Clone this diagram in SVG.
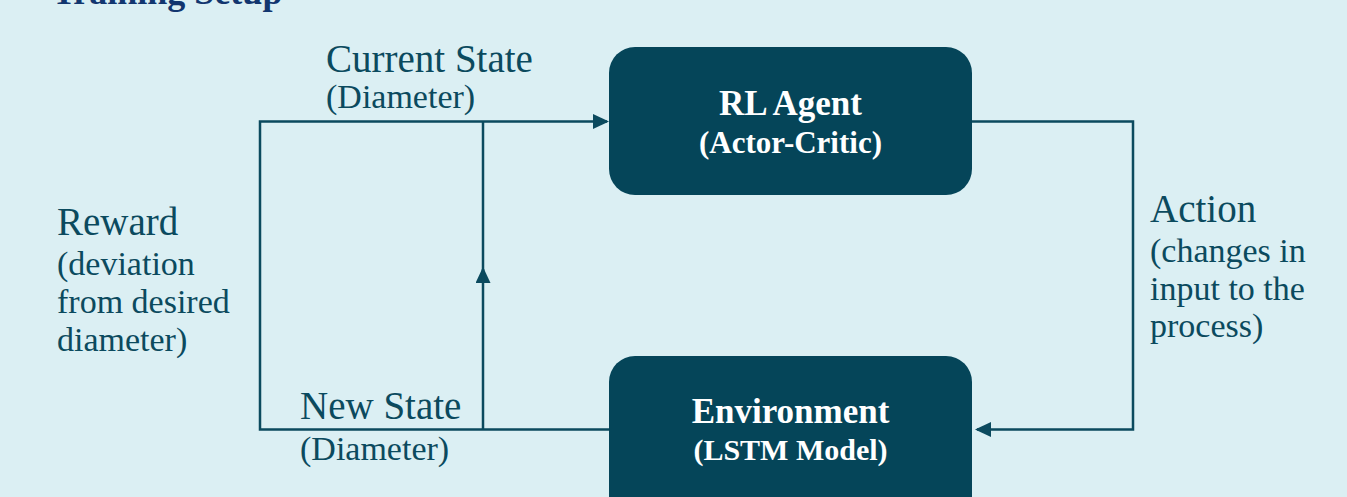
<svg xmlns="http://www.w3.org/2000/svg" width="1347" height="497" viewBox="0 0 1347 497">
<defs>
<style>
.bg{fill:#dbeff3}
.box{fill:#054559}
.lbl{font-family:"Liberation Serif",serif;fill:#0b4a5e}
.main{font-size:39px}
.sub{font-size:34px}
.bt{font-family:"Liberation Serif",serif;fill:#ffffff;font-weight:bold;text-anchor:middle}
.conn{fill:none;stroke:#0b4a5e;stroke-width:2.5}
.title{font-family:"Liberation Serif",serif;font-weight:bold;font-size:36px;fill:#12366f}
</style>
<marker id="arr" viewBox="0 0 16 15" refX="14" refY="7.5" markerWidth="16" markerHeight="15" markerUnits="userSpaceOnUse" orient="auto">
<path d="M0,0 L16,7.5 L0,15 z" fill="#0b4a5e"/>
</marker>
</defs>
<rect class="bg" x="0" y="0" width="1347" height="497"/>
<text class="title" x="52" y="4">Training Setup</text>

<g id="connectors">
<path class="conn" d="M609,429.5 H260 V121.5 H607" marker-end="url(#arr)"/>
<path class="conn" d="M483,429.5 V269" marker-end="url(#arr)"/>
<path class="conn" d="M483,283 V121.5"/>
<path class="conn" d="M972,121.5 H1133 V429.5 H977" marker-end="url(#arr)"/>
</g>

<g id="rl-agent">
<rect class="box" x="609" y="47" width="363" height="148" rx="26" ry="26"/>
<text class="bt" x="790.5" y="115" font-size="35">RL Agent</text>
<text class="bt" x="790.5" y="153" font-size="31">(Actor-Critic)</text>
</g>

<g id="environment">
<rect class="box" x="609" y="356" width="363" height="180" rx="26" ry="26"/>
<text class="bt" x="790.5" y="423" font-size="35">Environment</text>
<text class="bt" x="790.5" y="460" font-size="30">(LSTM Model)</text>
</g>

<g id="label-current-state">
<text class="lbl main" x="326" y="72">Current State</text>
<text class="lbl sub" x="326" y="108">(Diameter)</text>
</g>

<g id="label-reward">
<text class="lbl main" x="57" y="235">Reward</text>
<text class="lbl sub" x="57" y="275">(deviation</text>
<text class="lbl sub" x="57" y="313">from desired</text>
<text class="lbl sub" x="57" y="351">diameter)</text>
</g>

<g id="label-action">
<text class="lbl main" x="1150" y="222">Action</text>
<text class="lbl sub" x="1150" y="262">(changes in</text>
<text class="lbl sub" x="1150" y="300">input to the</text>
<text class="lbl sub" x="1150" y="337">process)</text>
</g>

<g id="label-new-state">
<text class="lbl main" x="300" y="419">New State</text>
<text class="lbl sub" x="300" y="460">(Diameter)</text>
</g>
</svg>
